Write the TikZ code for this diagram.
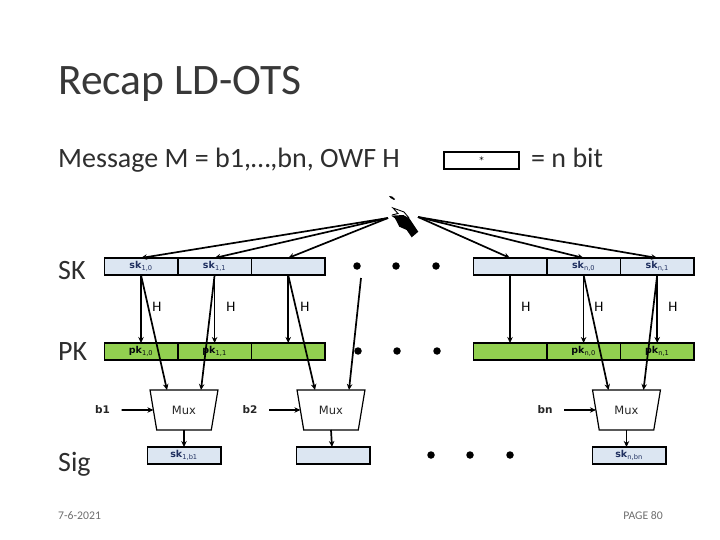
\documentclass[tikz,border=0pt]{standalone}
\usepackage{fontspec}
\setmainfont{Carlito}
\newfontfamily\cellfont{DejaVu Sans}
\usepackage{xcolor}
\usetikzlibrary{positioning,arrows.meta,shapes.geometric}
\definecolor{skblue}{HTML}{DCE6F2}
\definecolor{pkgreen}{HTML}{92D050}
\definecolor{subnavy}{HTML}{1F2F5F}
\definecolor{footgray}{HTML}{6E6E6E}
\newcommand{\keyname}[2]{\textbf{#1}\textsubscript{#2}}

\begin{document}
\begin{tikzpicture}[x=1pt, y=-1pt,
  node distance=0pt,
  cell/.style={draw=black, line width=1.4pt, outer sep=0pt, inner sep=0pt, minimum width=73.6pt, minimum height=17pt, font=\cellfont\fontsize{9.5}{10}\selectfont},
  skcell/.style={cell, fill=skblue, text=subnavy},
  pkcell/.style={cell, fill=pkgreen, text=black!85!subnavy},
  mux/.style={draw=black, line width=1.2pt, trapezium, trapezium left angle=71, trapezium right angle=71, trapezium stretches=true, shape border rotate=180, minimum width=68pt, minimum height=40pt, inner sep=0pt, outer sep=0pt, font=\cellfont\fontsize{11.5}{12}\selectfont, text=black!85},
  head/.style={anchor=base west, inner sep=0pt, font=\fontsize{28}{30}\selectfont, text=black!82},
  bit/.style={font=\cellfont\bfseries\fontsize{10.5}{11}\selectfont, text=black!85},
  hlabel/.style={font=\fontsize{14.5}{15}\selectfont},
  foot/.style={inner sep=0pt, font=\fontsize{11.7}{12}\selectfont, text=footgray},
  pt/.style={circle, fill=black, inner sep=0pt, minimum size=7.5pt},
  ar/.style={-{Stealth[length=6pt, width=5.5pt]}, line width=1.7pt}]
\useasboundingbox (0,0) rectangle (720,540);
% headings
\node[anchor=base west, inner sep=0pt, font=\fontsize{43.5}{46}\selectfont, text=black!78] (title) at (58,95) {Recap LD-OTS};
\node[head] (msg) at (58,168) {Message M = b1,…,bn, OWF H};
\node[draw=black, line width=1.3pt, minimum width=75pt, minimum height=17pt, inner sep=0pt, font=\cellfont\fontsize{9}{9}\selectfont] (legend) at (481.5,160.5) {*};
\node[head] (nbit) at (531,168) {= n bit};
\node[head] (sklabel) at (58,279) {SK};
\node[head] (pklabel) at (58,360) {PK};
\node[head] (siglabel) at (58,471) {Sig};
% secret key row
\node[skcell] (sk1) at (141,266.5) {\keyname{sk}{1,0}};
\node[skcell, right=of sk1] (sk2) {\keyname{sk}{1,1}};
\node[skcell, right=of sk2] (sk3) {};
\node[skcell] (sk4) at (510,266.5) {};
\node[skcell, right=of sk4] (sk5) {\keyname{sk}{n,0}};
\node[skcell, right=of sk5] (sk6) {\keyname{sk}{n,1}};
% public key row
\node[pkcell] (pk1) at (141,351.5) {\keyname{pk}{1,0}};
\node[pkcell, right=of pk1] (pk2) {\keyname{pk}{1,1}};
\node[pkcell, right=of pk2] (pk3) {};
\node[pkcell] (pk4) at (510,351.5) {};
\node[pkcell, right=of pk4] (pk5) {\keyname{pk}{n,0}};
\node[pkcell, right=of pk5] (pk6) {\keyname{pk}{n,1}};
% muxes
\node[mux] (mux1) at (184,410) {Mux};
\node[mux] (mux2) at (331,410) {Mux};
\node[mux] (muxn) at (626.5,410) {Mux};
% signature row
\node[skcell, below=17pt of mux1] (sig1) {\keyname{sk}{1,b1}};
\node[skcell, below=17pt of mux2, xshift=2pt] (sig2) {};
\node[skcell, below=17pt of muxn, xshift=2.5pt] (sign) {\keyname{sk}{n,bn}};
% selection bits
\node[bit] (b1) at (102.5,410) {b1};
\node[bit] (b2) at (250,410) {b2};
\node[bit] (bn) at (545,410) {bn};
% H labels
\node[hlabel] (h1) at (157,306.5) {H};
\node[hlabel] (h2) at (231,306.5) {H};
\node[hlabel] (h3) at (305,306.5) {H};
\node[hlabel] (h4) at (526,306.5) {H};
\node[hlabel] (h5) at (599,306.5) {H};
\node[hlabel] (h6) at (673,306.5) {H};
% dots
\node[pt] (d1) at (357,266) {};
\node[pt] (d2) at (396,266) {};
\node[pt] (d3) at (436,266) {};
\node[pt] (d4) at (358,351) {};
\node[pt] (d5) at (397,351) {};
\node[pt] (d6) at (437,351) {};
\node[pt] (d7) at (431,455) {};
\node[pt] (d8) at (470,455) {};
\node[pt] (d9) at (510,455) {};
% footer
\node[foot, anchor=base west] (date) at (58,519) {7-6-2021};
\node[foot, anchor=base east] (page) at (663,519) {PAGE 80};
% hand
\fill (389,196) -- (392,196.5) -- (395,199) -- (394,200) -- (390.5,198) -- cycle;
\fill (391.3,215.7) -- (403.3,215) -- (409.3,218.3) -- (418.3,231.7) -- (411.7,237.3) -- (406.7,230) -- (399.3,226.7) -- (395,218.3) -- cycle;
\draw[line width=.9pt] (392,215) -- (398,213.5) -- (393,208) -- (404,212) -- (409,218);
\coordinate (handl) at (388,218);
\coordinate (handr) at (418,217);
\coordinate (free) at (361,278);
% arrows from the hand
\draw[ar] (handl) -- (sk1.north);
\draw[ar] (handl) -- (sk2.north);
\draw[ar] (handl) -- (sk3.north);
\draw[ar] (handr) -- (sk4.north);
\draw[ar] (handr) -- (sk5.north);
\draw[ar] (handr) -- (sk6.north);
% hashes
\draw[ar] (sk1.south) -- (pk1.north);
\draw[ar] (sk2.south) -- (pk2.north);
\draw[ar] (sk3.south) -- (pk3.north);
\draw[ar] (sk4.south) -- (pk4.north);
\draw[ar] (sk5.south) -- (pk5.north);
\draw[ar] (sk6.south) -- (pk6.north);
% into the muxes
\draw[ar] (sk1.south) -- ([xshift=-17pt]mux1.north);
\draw[ar] (sk2.south) -- ([xshift=17pt]mux1.north);
\draw[ar] (sk3.south) -- ([xshift=-16pt]mux2.north);
\draw[ar] (free) -- ([xshift=18pt]mux2.north);
\draw[ar] (sk5.south) -- ([xshift=-18pt]muxn.north);
\draw[ar] (sk6.south) -- ([xshift=17pt]muxn.north);
\draw[ar] (b1) ++(19,0) -- (mux1.west);
\draw[ar] (b2) ++(19,0) -- (mux2.west);
\draw[ar] (bn) ++(19,0) -- (muxn.west);
\draw[ar] (mux1.south) -- (sig1.north);
\draw[ar] (mux2.south) -- ([xshift=-1pt]sig2.north);
\draw[ar] (muxn.south) -- ([xshift=-2.5pt]sign.north);
\end{tikzpicture}
\end{document}
